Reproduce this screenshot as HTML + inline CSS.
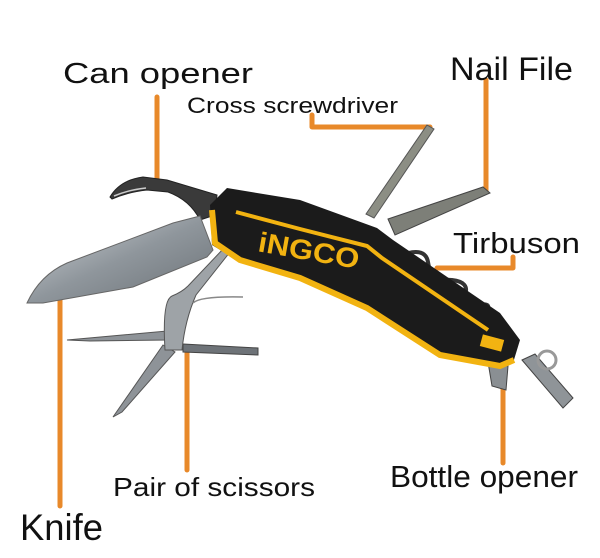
<!DOCTYPE html>
<html><head><meta charset="utf-8"><style>
html,body{margin:0;padding:0;background:#fff;}
body{width:600px;height:558px;position:relative;overflow:hidden;}
svg{position:absolute;left:0;top:0;}
text{font-family:"Liberation Sans",Arial,sans-serif;fill:#111;}
</style></head><body>
<svg width="600" height="558" viewBox="0 0 600 558">
<defs>
<linearGradient id="bl" x1="0" y1="0" x2="1" y2="1"><stop offset="0" stop-color="#d0d4d8"/><stop offset=".5" stop-color="#8f969c"/><stop offset="1" stop-color="#6a7075"/></linearGradient>
</defs>
<g stroke="#e8892a" stroke-width="5" fill="none" stroke-linecap="round" stroke-linejoin="round">
<path d="M157 97V187"/>
<path d="M312 115V127H430"/>
<path d="M486 80V192"/>
<path d="M437 268H513V257"/>
<path d="M60 285V506"/>
<path d="M187 347V470"/>
<path d="M503 383V463"/>
</g>
<!-- screwdriver -->
<path d="M366 214 L427 125 L434 129 L374 218Z" fill="#8c8e84" stroke="#555" stroke-width="1"/>
<!-- nail file -->
<path d="M388 219 L483 187 L490 193 L395 235Z" fill="#7d7f78" stroke="#444" stroke-width="1"/>
<!-- can opener -->
<path d="M110 197 Q120 180 143 177 L167 180 L217 195 L215 215 L200 220 Q190 200 168 192 L147 190 Q128 192 112 199Z" fill="#3a3a3a" stroke="#222" stroke-width="1"/>
<path d="M114 196 Q128 190 146 188" stroke="#ccc" stroke-width="1.5" fill="none"/>
<!-- knife blade -->
<path d="M27 303 Q40 275 67 263 L173 223 L200 216 L213 250 L207 257 L133 287 L43 303Z" fill="url(#bl)" stroke="#666" stroke-width="1"/>
<!-- scissors -->
<path d="M67 340 L167 331 L168 340 L90 341Z" fill="#8e9398" stroke="#555" stroke-width="1"/>
<path d="M183 344 L258 348 L258 355 L183 352Z" fill="#6e7378" stroke="#444" stroke-width="1"/>
<path d="M113 417 L163 345 L175 352 L122 412Z" fill="#8e9398" stroke="#555" stroke-width="1"/>
<path d="M165 350 Q162 300 172 296 Q182 292 188 286 L224 248 L230 252 L196 295 Q185 320 182 350Z" fill="#9ea3a7" stroke="#555" stroke-width="1"/>
<path d="M193 303 Q200 296 243 297" stroke="#888" stroke-width="1.5" fill="none"/>
<!-- corkscrew -->
<path d="M397 257 Q425 245 428 262 Q430 280 452 280 Q470 282 465 295 Q462 310 480 305 Q492 302 487 313" fill="none" stroke="#333" stroke-width="4"/>
<!-- bottle opener tools -->
<path d="M488 362 L508 366 L506 390 L492 386Z" fill="#8a8f93" stroke="#444" stroke-width="1"/>
<path d="M522 360 L535 354 L573 398 L563 408Z" fill="#8f9498" stroke="#444" stroke-width="1"/>
<circle cx="547" cy="360" r="9" fill="none" stroke="#999" stroke-width="3"/>
<!-- handle -->
<path d="M227 188 L300 200 L377 228 L393 240 L500 313 L520 340 L513 363 L500 367 L440 357 L367 310 L300 280 L240 262 L212 245 L210 205Z" fill="#1b1b1b"/>
<path d="M212 210 L215 243 L240 260 L300 278 L367 308 L440 355 L500 366 L514 360" fill="none" stroke="#f2b311" stroke-width="6"/>
<path d="M236 212 L300 229 L367 246 L382 258 L488 330" fill="none" stroke="#f2b311" stroke-width="4"/>
<rect x="481" y="337" width="22" height="12" fill="#f2b311" transform="rotate(15 492 343)"/>
<text x="258" y="260" font-weight="bold" font-size="28" style="fill:#f2b311" textLength="102" lengthAdjust="spacingAndGlyphs" transform="rotate(10 308 250)">iNGCO</text>
<!-- labels -->
<text x="63" y="83" font-size="29" textLength="190" lengthAdjust="spacingAndGlyphs">Can opener</text>
<text x="187" y="113" font-size="22" textLength="211" lengthAdjust="spacingAndGlyphs">Cross screwdriver</text>
<text x="450" y="80" font-size="32" textLength="123" lengthAdjust="spacingAndGlyphs">Nail File</text>
<text x="453" y="253" font-size="29" textLength="127" lengthAdjust="spacingAndGlyphs">Tirbuson</text>
<text x="390" y="487" font-size="31" textLength="188" lengthAdjust="spacingAndGlyphs">Bottle opener</text>
<text x="113" y="496" font-size="26" textLength="202" lengthAdjust="spacingAndGlyphs">Pair of scissors</text>
<text x="20" y="540" font-size="37" textLength="83" lengthAdjust="spacingAndGlyphs">Knife</text>
</svg>
</body></html>
